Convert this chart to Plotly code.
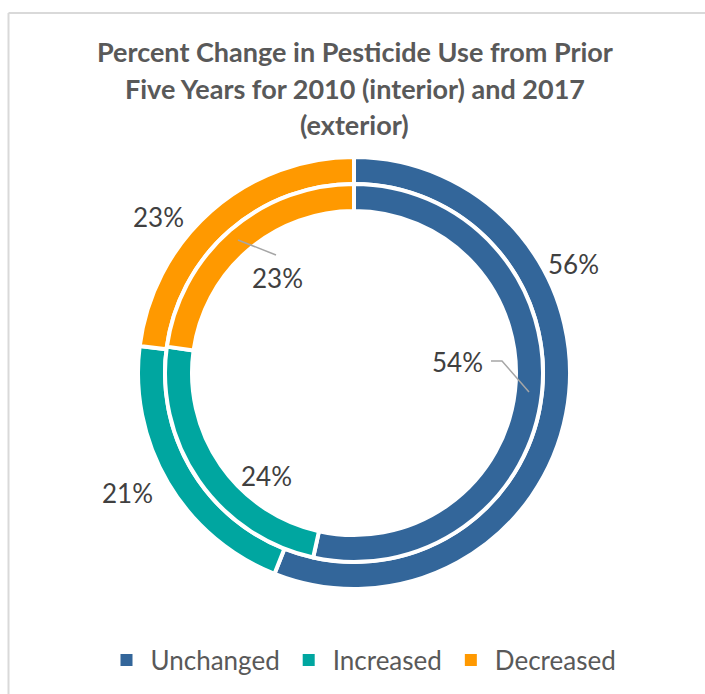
import plotly.graph_objects as go

# Survey responses (percent of respondents)
categories = ["Unchanged", "Increased", "Decreased"]
values_2017 = [56, 21, 23]   # exterior ring
values_2010 = [54, 24, 23]   # interior ring
colors = ["#33669A", "#00A6A0", "#FF9900"]

title_lines = [
    "Percent Change in Pesticide Use from Prior",
    "Five Years for 2010 (interior) and 2017",
    "(exterior)",
]

W, H = 705, 694
FONT = "Lato, 'Open Sans', sans-serif"
LABEL_COLOR = "#404040"
TITLE_COLOR = "#595959"

# ring geometry in pixels
CX, CY = 354, 373
R_OUT, R_MID, R_IN = 216, 189, 162
SEP = 4


def px(x):
    return x / W


def py(y):
    return 1 - y / H


def domain(r):
    return dict(x=[px(CX - r), px(CX + r)], y=[py(CY + r), py(CY - r)])


fig = go.Figure()

# legend carrier: same categories, drawn without separators at zero size
fig.add_trace(go.Pie(
    labels=categories, values=values_2017, name="legend",
    sort=False, direction="clockwise",
    domain=dict(x=[px(CX), px(CX) + 1e-5], y=[py(CY), py(CY) + 1e-5]),
    marker=dict(colors=colors, line=dict(width=0)),
    textinfo="none", hoverinfo="skip", showlegend=True,
))

fig.add_trace(go.Pie(
    labels=categories, values=values_2017, name="2017",
    sort=False, direction="clockwise", rotation=0,
    hole=R_MID / R_OUT, domain=domain(R_OUT),
    marker=dict(colors=colors, line=dict(color="white", width=SEP)),
    textinfo="none", hoverinfo="label+percent", showlegend=False,
))
fig.add_trace(go.Pie(
    labels=categories, values=values_2010, name="2010",
    sort=False, direction="clockwise", rotation=0,
    hole=R_IN / R_MID, domain=domain(R_MID),
    marker=dict(colors=colors, line=dict(color="white", width=SEP)),
    textinfo="none", hoverinfo="label+percent", showlegend=False,
))

annotations = []
for i, line in enumerate(title_lines):
    annotations.append(dict(
        x=px(355), y=py(52 + 36 * i), xref="paper", yref="paper",
        text=f"<b>{line}</b>", showarrow=False,
        xanchor="center", yanchor="middle",
        font=dict(family=FONT, size=27, color=TITLE_COLOR),
    ))

# data label anchor points (label centres)
label_pos_2017 = [(573, 264), (127, 493), (158, 217)]
label_pos_2010 = [(457, 362), (266, 476), (277, 278)]
for vals, positions in ((values_2017, label_pos_2017), (values_2010, label_pos_2010)):
    for v, (x, y) in zip(vals, positions):
        annotations.append(dict(
            x=px(x), y=py(y), xref="paper", yref="paper",
            text=f"{v}%", showarrow=False,
            xanchor="center", yanchor="middle",
            font=dict(family=FONT, size=26, color=LABEL_COLOR),
        ))

LEADER = dict(color="#A6A6A6", width=1.5)
shapes = [
    # leader lines for interior labels
    dict(type="path", xref="paper", yref="paper",
         path=f"M{px(238)},{py(240)} L{px(276)},{py(255)}", line=LEADER),
    dict(type="path", xref="paper", yref="paper",
         path=f"M{px(491)},{py(361)} L{px(502)},{py(361)} L{px(529)},{py(392)}",
         line=LEADER),
    # chart area border
    dict(type="line", xref="paper", yref="paper",
         x0=px(8.5), x1=1.0, y0=py(13), y1=py(13),
         line=dict(color="#D9D9D9", width=2)),
    dict(type="line", xref="paper", yref="paper",
         x0=px(8.5), x1=px(8.5), y0=py(13), y1=0.0,
         line=dict(color="#D9D9D9", width=2)),
]

fig.update_layout(
    width=W, height=H,
    margin=dict(l=0, r=0, t=0, b=0),
    paper_bgcolor="white", plot_bgcolor="white",
    annotations=annotations,
    shapes=shapes,
    legend=dict(
        orientation="h", x=px(362), xanchor="center",
        y=py(660), yanchor="middle",
        font=dict(family=FONT, size=26, color=TITLE_COLOR),
        traceorder="normal", itemwidth=38,
    ),
)

fig.write_html("out.html")
